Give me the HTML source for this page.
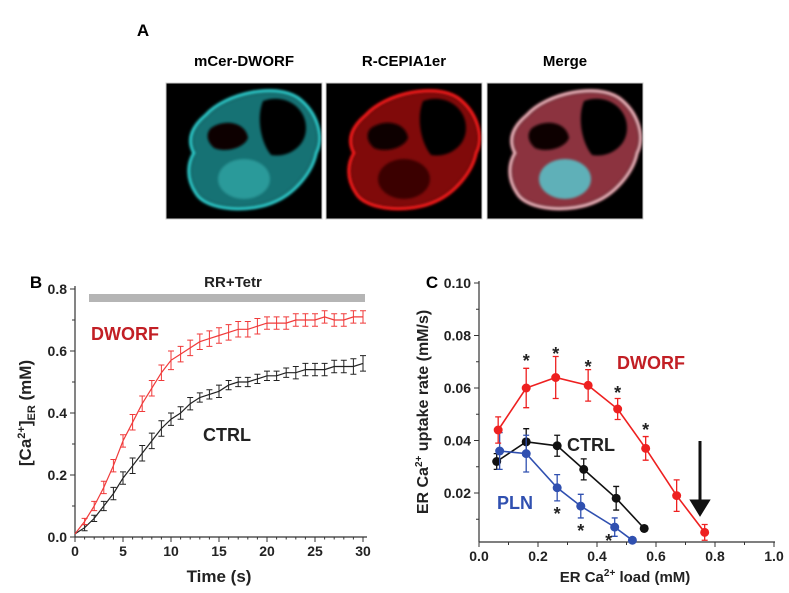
<!DOCTYPE html>
<html><head><meta charset="utf-8"><style>
html,body{margin:0;padding:0;background:#fff;width:789px;height:593px;overflow:hidden}
svg{display:block;font-family:"Liberation Sans",Arial,sans-serif;font-weight:bold}
</style></head><body>
<svg id="fig" width="789" height="593" viewBox="0 0 789 593">
<defs>
<filter id="blur1"><feGaussianBlur stdDeviation="2.5"/></filter>
<filter id="blur2"><feGaussianBlur stdDeviation="1.2"/></filter>
</defs>
<g>
<text x="143" y="36" font-size="17" text-anchor="middle">A</text>
<text x="244" y="66" font-size="15" text-anchor="middle">mCer-DWORF</text>
<text x="404" y="66" font-size="15" text-anchor="middle">R-CEPIA1er</text>
<text x="565" y="66" font-size="15" text-anchor="middle">Merge</text>
<g id="cells"></g>
</g>
<g>
<text x="36" y="288" font-size="17" text-anchor="middle">B</text>
<g id="chartB"></g>
</g>
<g>
<text x="432" y="288" font-size="17" text-anchor="middle">C</text>
<g id="chartC"></g>
</g>
</svg>
<script>
const timeS = [0,1,2,3,4,5,6,7,8,9,10,11,12,13,14,15,16,17,18,19,20,21,22,23,24,25,26,27,28,29,30];
const dworfCa = [0.01,0.05,0.10,0.16,0.23,0.31,0.37,0.43,0.48,0.53,0.57,0.59,0.61,0.63,0.64,0.65,0.66,0.67,0.67,0.68,0.69,0.69,0.69,0.70,0.70,0.70,0.71,0.70,0.70,0.71,0.71];
const dworfErr = [0.005,0.01,0.015,0.02,0.02,0.02,0.025,0.025,0.025,0.025,0.03,0.025,0.025,0.025,0.025,0.025,0.025,0.025,0.025,0.025,0.02,0.02,0.02,0.02,0.02,0.02,0.02,0.02,0.02,0.02,0.02];
const ctrlCa = [0.01,0.03,0.06,0.10,0.14,0.19,0.23,0.27,0.31,0.35,0.38,0.40,0.43,0.45,0.46,0.47,0.49,0.50,0.50,0.51,0.52,0.52,0.53,0.53,0.54,0.54,0.54,0.55,0.55,0.55,0.56];
const ctrlErr = [0.005,0.01,0.01,0.015,0.02,0.02,0.025,0.025,0.025,0.025,0.02,0.02,0.02,0.015,0.015,0.02,0.015,0.015,0.015,0.015,0.015,0.015,0.015,0.02,0.02,0.02,0.02,0.02,0.02,0.025,0.025];
const bXTicks = [0,5,10,15,20,25,30];
const bYTicks = [0.0,0.2,0.4,0.6,0.8];
const cDworfX = [0.065,0.16,0.26,0.37,0.47,0.565,0.67,0.765];
const cDworfY = [0.044,0.060,0.064,0.061,0.052,0.037,0.019,0.005];
const cDworfE = [0.005,0.0075,0.008,0.006,0.004,0.0045,0.006,0.003];
const cCtrlX = [0.06,0.16,0.265,0.355,0.465,0.56];
const cCtrlY = [0.032,0.0395,0.038,0.029,0.018,0.0065];
const cCtrlE = [0.003,0.005,0.004,0.004,0.0045,0.001];
const cPlnX = [0.07,0.16,0.265,0.345,0.46,0.52];
const cPlnY = [0.036,0.035,0.022,0.015,0.007,0.002];
const cPlnE = [0.007,0.007,0.005,0.0045,0.0035,0.001];
const cStarX = [0.16,0.26,0.37,0.47,0.565,0.265,0.345,0.44];
const cStarY = [0.0722,0.0749,0.070,0.060,0.046,0.0139,0.0074,0.0036];
const cXTicks = [0.0,0.2,0.4,0.6,0.8,1.0];
const cYTicks = [0.02,0.04,0.06,0.08,0.10];

const NS="http://www.w3.org/2000/svg";
function mk(parent,tag,attrs,text){const e=document.createElementNS(NS,tag);for(const k in attrs)e.setAttribute(k,attrs[k]);if(text!==undefined)e.textContent=text;parent.appendChild(e);return e;}

(function(){
  const g=document.getElementById('cells');
  const xs=[166,326,487];
  const cols=[["#2fd0d0","#1a8f92"],["#ff1a1a","#a00d0d"],["#f2b8c0","#b04050"]];
  xs.forEach((x0,i)=>{
    const pg=mk(g,'g',{transform:`translate(${x0},83)`});
    
    
    mk(pg,'rect',{x:0,y:0,width:156,height:136,fill:'#000'});
    const outline="M40,32 C60,10 110,0 132,15 C152,30 158,55 150,70 C146,90 128,110 110,118 C85,130 40,128 30,110 C20,95 22,80 28,70 C20,55 28,42 40,32 Z";
    mk(pg,'path',{d:outline,fill:cols[i][1],opacity:0.8,filter:'url(#blur1)'});
    mk(pg,'path',{d:outline,fill:'none',stroke:cols[i][0],'stroke-width':3,filter:'url(#blur2)'});
    mk(pg,'path',{d:"M97,18 C120,10 140,25 140,45 C140,65 120,75 105,72 C95,60 90,35 97,18 Z",fill:'#050000',filter:'url(#blur2)'});
    mk(pg,'path',{d:"M45,45 C60,35 80,40 82,55 C78,65 60,70 48,65 C40,58 40,50 45,45 Z",fill:'#0a0505',filter:'url(#blur2)'});
    mk(pg,'ellipse',{cx:78,cy:96,rx:26,ry:20,fill:i===1?'#3a0505':(i===0?'#2a9a9a':'#5fb0b8'),filter:'url(#blur2)'});
    mk(pg,'rect',{x:0,y:0,width:156,height:136,fill:'none',stroke:'#ccc','stroke-width':1});
  });
})();

(function(){
  const g=document.getElementById('chartB');
  const X0=75,X1=363,Y0=537,Y1=289;
  const sx=v=>X0+(v-0)/30*(X1-X0);
  const sy=v=>Y0-(v-0)/0.8*(Y0-Y1);
  const ax=mk(g,'g',{});
  
  
  mk(ax,'line',{x1:X0,y1:Y1-3,x2:X0,y2:Y0,stroke:'#333','stroke-width':1.2});
  mk(ax,'line',{x1:X0,y1:Y0,x2:X1+4,y2:Y0,stroke:'#333','stroke-width':1.2});
  bXTicks.forEach(t=>{
    mk(ax,'line',{x1:sx(t),y1:Y0,x2:sx(t),y2:Y0+5,stroke:'#333'});
    const tx=mk(ax,'text',{x:sx(t),y:Y0+19,'font-size':14,'text-anchor':'middle',fill:'#222'},String(t));
    
    
  });
  for(let t=1;t<30;t++){ if(t%5) mk(ax,'line',{x1:sx(t),y1:Y0,x2:sx(t),y2:Y0+2.5,stroke:'#333'}); }
  bYTicks.forEach(t=>{
    mk(ax,'line',{x1:X0-5,y1:sy(t),x2:X0,y2:sy(t),stroke:'#333'});
    const tx=mk(ax,'text',{x:X0-8,y:sy(t)+5,'font-size':14,'text-anchor':'end',fill:'#222'},t.toFixed(1));
    
    
  });
  for(let t=0.1;t<0.8;t+=0.2){ mk(ax,'line',{x1:X0-3,y1:sy(t),x2:X0,y2:sy(t),stroke:'#333'}); }
  const xt=mk(g,'text',{x:219,y:582,'font-size':17,'text-anchor':'middle',fill:'#222'},'Time (s)');
  
  
  const yt=mk(g,'text',{transform:'translate(31,413) rotate(-90)','font-size':17,'text-anchor':'middle',fill:'#222'});
  
  
  yt.innerHTML='[Ca<tspan font-size="11" dy="-6">2+</tspan><tspan dy="6">]</tspan><tspan font-size="11" dy="4">ER</tspan><tspan dy="-4"> (mM)</tspan>';
  const bar=mk(g,'rect',{x:89,y:294,width:276,height:8,fill:'#b5b5b5'});
  
  
  const bl=mk(g,'text',{x:233,y:287,'font-size':15,'text-anchor':'middle',fill:'#222'},'RR+Tetr');
  
  
  function series(vals,errs,color,name){
    const sg=mk(g,'g',{});
    
    
    let d='';
    vals.forEach((v,i)=>{d+=(i?'L':'M')+sx(timeS[i]).toFixed(1)+','+sy(v).toFixed(1);});
    const p=mk(sg,'path',{d:d,fill:'none',stroke:color,'stroke-width':1.2});
    
    
    vals.forEach((v,i)=>{
      if(i===0)return;
      const x=sx(timeS[i]),a=sy(v+errs[i]),b=sy(v-errs[i]);
      const eb=mk(sg,'path',{d:`M${x},${a}V${b}M${x-3},${a}H${x+3}M${x-3},${b}H${x+3}`,stroke:color,'stroke-width':1,fill:'none'});
      
      
    });
  }
  series(ctrlCa,ctrlErr,'#222','ctrl');
  series(dworfCa,dworfErr,'#f03a3a','dworf');
  const l1=mk(g,'text',{x:91,y:340,'font-size':18,fill:'#c21f25'},'DWORF');
  
  
  const l2=mk(g,'text',{x:203,y:441,'font-size':18,fill:'#222'},'CTRL');
  
  
})();

(function(){
  const g=document.getElementById('chartC');
  const X0=479,X1=774,Ytop=283,Yb=542;
  const sx=v=>X0+v*(X1-X0);
  const sy=v=>493-(v-0.02)/0.08*(493-283);
  const ax=mk(g,'g',{});
  
  
  mk(ax,'line',{x1:X0,y1:Ytop-2,x2:X0,y2:Yb,stroke:'#333','stroke-width':1.2});
  mk(ax,'line',{x1:X0,y1:Yb,x2:X1+1,y2:Yb,stroke:'#333','stroke-width':1.2});
  cXTicks.forEach(t=>{
    mk(ax,'line',{x1:sx(t),y1:Yb,x2:sx(t),y2:Yb+5,stroke:'#333'});
    const tx=mk(ax,'text',{x:sx(t),y:Yb+19,'font-size':14,'text-anchor':'middle',fill:'#222'},t.toFixed(1));
    
    
  });
  for(let t=0.1;t<1;t+=0.2) mk(ax,'line',{x1:sx(t),y1:Yb,x2:sx(t),y2:Yb+3,stroke:'#333'});
  cYTicks.forEach(t=>{
    mk(ax,'line',{x1:X0-5,y1:sy(t),x2:X0,y2:sy(t),stroke:'#333'});
    const tx=mk(ax,'text',{x:X0-8,y:sy(t)+5,'font-size':14,'text-anchor':'end',fill:'#222'},t.toFixed(2));
    
    
  });
  for(let t=0.01;t<0.1;t+=0.02) mk(ax,'line',{x1:X0-3,y1:sy(t),x2:X0,y2:sy(t),stroke:'#333'});
  const xt=mk(g,'text',{x:625,y:582,'font-size':15,'text-anchor':'middle',fill:'#222'});
  
  
  xt.innerHTML='ER Ca<tspan font-size="10" dy="-6">2+</tspan><tspan dy="6"> load (mM)</tspan>';
  const yt=mk(g,'text',{transform:'translate(428,412) rotate(-90)','font-size':16,'text-anchor':'middle',fill:'#222'});
  
  
  yt.innerHTML='ER Ca<tspan font-size="10" dy="-6">2+</tspan><tspan dy="6"> uptake rate (mM/s)</tspan>';
  function series(xs,ys,es,color,name){
    const sg=mk(g,'g',{});
    
    
    let d='';
    xs.forEach((x,i)=>{d+=(i?'L':'M')+sx(x).toFixed(1)+','+sy(ys[i]).toFixed(1);});
    const p=mk(sg,'path',{d:d,fill:'none',stroke:color,'stroke-width':1.6});
    
    
    xs.forEach((x0,i)=>{
      const x=sx(x0),a=sy(ys[i]+es[i]),b=sy(ys[i]-es[i]);
      const eb=mk(sg,'path',{d:`M${x},${a}V${b}M${x-3},${a}H${x+3}M${x-3},${b}H${x+3}`,stroke:color,'stroke-width':1.3,fill:'none'});
      
      
      const c=mk(sg,'circle',{cx:x,cy:sy(ys[i]),r:4.5,fill:color});
      
      
    });
  }
  series(cCtrlX,cCtrlY,cCtrlE,'#111','ctrl');
  series(cPlnX,cPlnY,cPlnE,'#3050b0','pln');
  series(cDworfX,cDworfY,cDworfE,'#ee2020','dworf');
  cStarX.forEach((x,i)=>{
    const s=mk(g,'text',{x:sx(x),y:sy(cStarY[i])+11,'font-size':18,'text-anchor':'middle',fill:'#222'},'*');
    
    
  });
  const l1=mk(g,'text',{x:617,y:369,'font-size':18,fill:'#c21f25'},'DWORF');
  
  
  const l2=mk(g,'text',{x:567,y:451,'font-size':18,fill:'#222'},'CTRL');
  
  
  const l3=mk(g,'text',{x:497,y:509,'font-size':18,fill:'#3050b0'},'PLN');
  
  
  const ar=mk(g,'path',{d:'M700,441V512M692,501L700,514L708,501Z',stroke:'#111','stroke-width':3,fill:'#111'});
  
  
})();
</script>
</body></html>
